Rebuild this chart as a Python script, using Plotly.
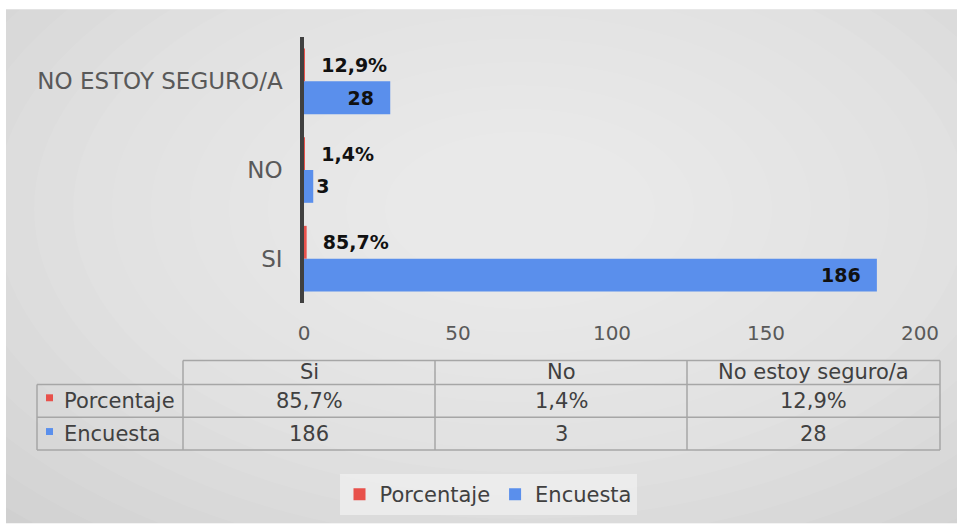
import plotly.graph_objects as go

# Data
categories = ["SI", "NO", "NO ESTOY SEGURO/A"]
table_categories = ["Si", "No", "No estoy seguro/a"]
encuesta = [186, 3, 28]
porcentaje = [0.857, 0.014, 0.129]
series_names = ["Porcentaje", "Encuesta"]
x_ticks = [0, 50, 100, 150, 200]

pct_labels = [f"{v * 100:.1f}".replace(".", ",") + "%" for v in porcentaje]

RED = "#e8514b"
BLUE = "#5a8fec"
FONT = "DejaVu Sans"

# canvas / plot area geometry in pixels
W, H = 957, 527
L, R, T, B = 304, 37, 37, 222
PW, PH = W - L - R, H - T - B


def px(x):
    return (x - L) / PW


def py(y):
    return (H - B - y) / PH


fig = go.Figure()

fig.add_trace(go.Bar(
    y=categories, x=encuesta, orientation="h", name=series_names[1],
    marker=dict(color=BLUE, line=dict(width=0)),
    text=[f"{v}\u00a0\u00a0" for v in encuesta],
    texttemplate="%{text}",
    textposition="auto", insidetextanchor="end", constraintext="none",
    textfont=dict(family=FONT, size=19, color="#111111", weight="bold"),
    legendrank=2, cliponaxis=False,
))
fig.add_trace(go.Bar(
    y=categories, x=porcentaje, orientation="h", name=series_names[0],
    marker=dict(color=RED, line=dict(width=0)),
    text=["\u00a0\u00a0" + s for s in pct_labels],
    texttemplate="%{text}",
    textposition="outside", constraintext="none",
    textfont=dict(family=FONT, size=19, color="#111111", weight="bold"),
    legendrank=1, cliponaxis=False,
))

shapes = []
# background with a soft radial gradient
shapes.append(dict(type="rect", xref="paper", yref="paper", layer="below",
                   x0=px(6), x1=px(W), y0=py(9), y1=py(H),
                   fillcolor="#d0d0d0", line=dict(width=0)))
cx, cy = 520, 210
for i in range(16):
    rx, ry = 720 - i * 39, 430 - i * 23.5
    shapes.append(dict(type="circle", xref="paper", yref="paper", layer="below",
                       x0=px(cx - rx), x1=px(cx + rx), y0=py(cy + ry), y1=py(cy - ry),
                       fillcolor="rgba(255,255,255,0.062)", line=dict(width=0)))

# data table grid
grid = dict(color="#a6a6a6", width=1.5)
col_x = [183, 435, 687, 940]
row_y = [363, 387, 420, 453]
shapes.append(dict(type="line", xref="paper", yref="paper",
                   x0=px(col_x[0]), x1=px(col_x[-1]), y0=py(row_y[0]), y1=py(row_y[0]), line=grid))
for yy in row_y[1:]:
    shapes.append(dict(type="line", xref="paper", yref="paper",
                       x0=px(37), x1=px(col_x[-1]), y0=py(yy), y1=py(yy), line=grid))
shapes.append(dict(type="line", xref="paper", yref="paper",
                   x0=px(37), x1=px(37), y0=py(row_y[1]), y1=py(row_y[-1]), line=grid))
for xx in col_x:
    shapes.append(dict(type="line", xref="paper", yref="paper",
                       x0=px(xx), x1=px(xx), y0=py(row_y[0]), y1=py(row_y[-1]), line=grid))
# legend keys inside the table
for color, (y0, y1) in zip([RED, BLUE], [(397, 404), (431, 438)]):
    shapes.append(dict(type="rect", xref="paper", yref="paper",
                       x0=px(46), x1=px(53), y0=py(y1), y1=py(y0),
                       fillcolor=color, line=dict(width=0)))

annotations = []
tfont = dict(family=FONT, size=21, color="#404040")
for i, cat in enumerate(table_categories):
    xc = (col_x[i] + col_x[i + 1]) / 2
    for text, yy in [(cat, 375), (pct_labels[i], 404), (str(encuesta[i]), 437)]:
        annotations.append(dict(xref="paper", yref="paper", x=px(xc), y=py(yy),
                                xanchor="center", yanchor="middle",
                                text=text, showarrow=False, font=tfont))
for name, yy in zip(series_names, [404, 437]):
    annotations.append(dict(xref="paper", yref="paper", x=px(62), y=py(yy),
                            xanchor="left", yanchor="middle",
                            text=name, showarrow=False, font=tfont))

fig.update_layout(
    width=W, height=H,
    margin=dict(l=L, r=R, t=T, b=B),
    paper_bgcolor="white",
    plot_bgcolor="rgba(0,0,0,0)",
    barmode="group", bargap=0.26, bargroupgap=0,
    font=dict(family=FONT, color="#595959"),
    xaxis=dict(range=[0, 200], tickvals=x_ticks, showgrid=False, zeroline=False,
               showline=False, ticks="outside", ticklen=12, tickcolor="rgba(0,0,0,0)",
               tickfont=dict(family=FONT, size=20, color="#595959")),
    yaxis=dict(showgrid=False, zeroline=False, showline=True, linecolor="#404040",
               linewidth=3.5, ticks="outside", ticklen=13, tickcolor="rgba(0,0,0,0)",
               tickfont=dict(family=FONT, size=23, color="#595959")),
    legend=dict(orientation="h", x=px(488), xanchor="center", y=py(498), yanchor="middle",
                bgcolor="rgba(245,245,245,0.6)", font=dict(family=FONT, size=21, color="#404040")),
    shapes=shapes,
    annotations=annotations,
    showlegend=True,
)

fig.write_html("out.html", config={"displayModeBar": False},
               post_script="document.body.style.margin='0';")
